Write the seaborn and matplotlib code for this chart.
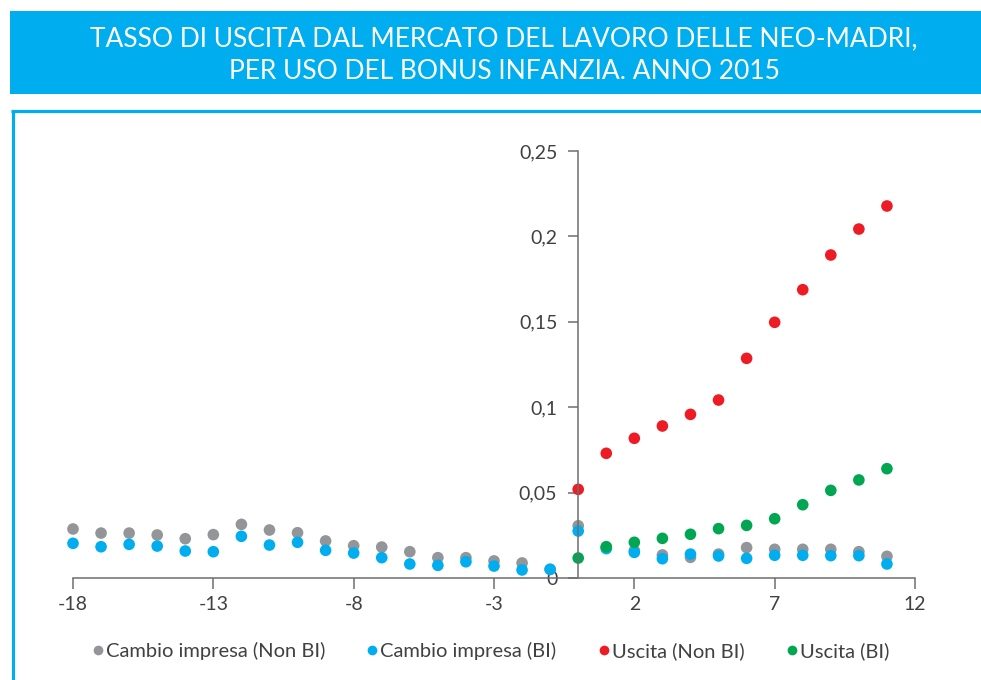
import numpy as np
import pandas as pd
import matplotlib
matplotlib.use("Agg")
import matplotlib.pyplot as plt
from matplotlib.patches import Rectangle
from matplotlib.lines import Line2D
import seaborn as sns

# ---------------- data ----------------
x_cambio = list(range(-18, 12))
cambio_non_bi = [0.0287, 0.0263, 0.0263, 0.0252, 0.0230, 0.0254, 0.0314, 0.0281, 0.0265, 0.0217,
                 0.0189, 0.0181, 0.0154, 0.0119, 0.0119, 0.0100, 0.0088, 0.0050,
                 0.0306, 0.0180, 0.0160, 0.0135, 0.0121, 0.0140, 0.0178, 0.0168, 0.0168, 0.0168, 0.0154, 0.0127]
cambio_bi = [0.0203, 0.0183, 0.0197, 0.0187, 0.0158, 0.0154, 0.0244, 0.0193, 0.0209, 0.0162,
             0.0146, 0.0119, 0.0082, 0.0074, 0.0095, 0.0070, 0.0047, 0.0051,
             0.0275, 0.0172, 0.0150, 0.0113, 0.0140, 0.0129, 0.0115, 0.0133, 0.0133, 0.0131, 0.0131, 0.0082]
x_uscita = list(range(0, 12))
uscita_non_bi = [0.0519, 0.0730, 0.0818, 0.0890, 0.0958, 0.1042, 0.1286, 0.1497, 0.1688, 0.1891, 0.2043, 0.2178]
uscita_bi = [0.0117, 0.0183, 0.0209, 0.0232, 0.0256, 0.0289, 0.0308, 0.0347, 0.0429, 0.0513, 0.0574, 0.0640]

series_names = ["Cambio impresa (Non BI)", "Cambio impresa (BI)", "Uscita (Non BI)", "Uscita (BI)"]
series_colors = ["#939598", "#00aeef", "#ed1c24", "#00a651"]

x_ticks = [-18, -13, -8, -3, 2, 7, 12]
y_ticks = [0, 0.05, 0.1, 0.15, 0.2, 0.25]
y_tick_labels = ["0", "0,05", "0,1", "0,15", "0,2", "0,25"]

title = "TASSO DI USCITA DAL MERCATO DEL LAVORO DELLE NEO-MADRI,\nPER USO DEL BONUS INFANZIA. ANNO 2015"

# ---------------- frame ----------------
df = pd.concat([
    pd.DataFrame({"x": x_cambio, "y": cambio_non_bi, "serie": series_names[0]}),
    pd.DataFrame({"x": x_cambio, "y": cambio_bi, "serie": series_names[1]}),
    pd.DataFrame({"x": x_uscita, "y": uscita_non_bi, "serie": series_names[2]}),
    pd.DataFrame({"x": x_uscita, "y": uscita_bi, "serie": series_names[3]}),
], ignore_index=True)

sns.set_theme(style="white")
plt.rcParams["font.family"] = ["Lato", "DejaVu Sans"]

W, H = 981, 680
fig = plt.figure(figsize=(W / 100, H / 100), dpi=100)
ax = fig.add_axes([73 / W, 1 - 578 / H, (915 - 73) / W, (578 - 151) / H])

sns.scatterplot(data=df, x="x", y="y", hue="serie", hue_order=series_names,
                palette=series_colors, s=70, linewidth=0, ax=ax, legend=False,
                clip_on=False)

ax.set_xlim(-18, 12)
ax.set_ylim(0, 0.25)
ax.set_xlabel("")
ax.set_ylabel("")

axis_col = "#6d6e71"
for side in ["top", "right"]:
    ax.spines[side].set_visible(False)
ax.spines["left"].set_position(("data", 0))
ax.spines["left"].set_color(axis_col)
ax.spines["bottom"].set_color(axis_col)
ax.spines["left"].set_linewidth(1.1)
ax.spines["bottom"].set_linewidth(1.1)

ax.set_xticks(x_ticks)
ax.set_xticklabels([str(t) for t in x_ticks])
ax.set_yticks(y_ticks)
ax.set_yticklabels(y_tick_labels)
ax.tick_params(axis="x", direction="out", length=8, width=1.1, color=axis_col,
               labelsize=14, labelcolor="#414042", pad=5, bottom=True)
ax.tick_params(axis="y", direction="out", length=7, width=1.1, color=axis_col,
               labelsize=14, labelcolor="#414042", pad=8, left=True)
ax.grid(False)

# legend
handles = [Line2D([], [], marker="o", linestyle="", markersize=7, markerfacecolor=c,
                  markeredgewidth=0) for c in series_colors]
leg = fig.legend(handles, series_names, loc="center", bbox_to_anchor=(491 / W, 1 - 651 / H),
                 ncol=4, frameon=False, handlelength=0.5, handletextpad=0.15,
                 columnspacing=2.1, prop={"size": 14.5})
for t in leg.get_texts():
    t.set_color("#414042")

# title bar and frame
blue = "#00aeef"
fig.patches.append(Rectangle((10 / W, 1 - 94 / H), 1 - 10 / W, 83 / H,
                             transform=fig.transFigure, facecolor=blue, edgecolor="none", zorder=0))
fig.text(504 / W, 1 - 55 / H, title, ha="center", va="center", color="white",
         fontsize=19, linespacing=1.4)
fig.add_artist(Line2D([12.5 / W, 12.5 / W], [0, 1 - 110.5 / H], color=blue, linewidth=2.3,
                      transform=fig.transFigure, solid_capstyle="butt"))
fig.add_artist(Line2D([11 / W, 1], [1 - 110.5 / H, 1 - 110.5 / H], color=blue, linewidth=2.3,
                      transform=fig.transFigure, solid_capstyle="butt"))

fig.savefig("out.png", dpi=100)
